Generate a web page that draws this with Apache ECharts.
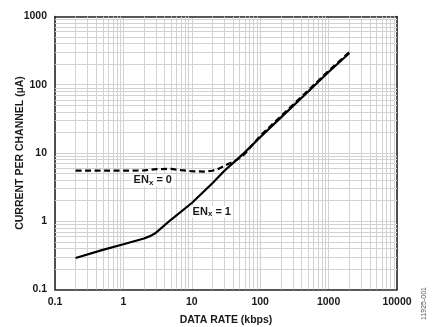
<!DOCTYPE html>
<html>
<head>
<meta charset="utf-8">
<script src="https://cdn.jsdelivr.net/npm/echarts@6/dist/echarts.min.js"></script>
<style>
  html, body { margin: 0; padding: 0; background: #fff; }
  #chart { width: 434px; height: 327px; }
</style>
</head>
<body>
<div id="chart"></div>
<script>
// Supply current per channel versus data rate, log-log.
const xTickLabels = ['0.1', '1', '10', '100', '1000', '10000'];
const yTickLabels = ['0.1', '1', '10', '100', '1000'];

// ENx = 1 (solid)
const en1Rate    = [0.2, 0.5, 1, 2, 2.5, 3, 5, 10, 20, 30, 50, 60, 100, 200, 500, 1000, 2000];
const en1Current = [0.29, 0.38, 0.46, 0.56, 0.61, 0.68, 1.06, 1.85, 3.6, 5.5, 8.7, 10.3, 17, 33, 79, 154, 290];

// ENx = 0 (dashed)
const en0Rate    = [0.2, 1, 2, 3, 5, 7, 10, 15, 20, 25, 30, 40, 50, 60, 100, 200, 500, 1000, 2000];
const en0Current = [5.5, 5.5, 5.55, 5.8, 5.85, 5.6, 5.4, 5.35, 5.5, 5.9, 6.5, 7.4, 8.4, 9.8, 17.8, 34.5, 82, 160, 298];

// Minor grid positions inside each decade
const minorSteps = [2, 3, 4, 5, 6, 7, 8, 9];
const xDecades = [0.1, 1, 10, 100, 1000];
const yDecades = [0.1, 1, 10, 100];

const FONT = 'Liberation Sans, Arial, sans-serif';
const INK = '#1a1a1a';
const GRID = '#d2d2d2';

const pairs = (xs, ys) => xs.map((x, i) => [x, ys[i]]);
const tickText = (labels) => (v) => {
  const s = String(parseFloat(Number(v).toPrecision(6)));
  return labels.includes(s) ? s : '';
};

const minorX = [];
xDecades.forEach(d => minorSteps.forEach(m => minorX.push({ xAxis: +(d * m).toPrecision(6) })));
const minorY = [];
yDecades.forEach(d => minorSteps.forEach(m => minorY.push({ yAxis: +(d * m).toPrecision(6) })));

const chart = echarts.init(document.getElementById('chart'), null, { renderer: 'canvas' });

const axisCommon = {
  type: 'log',
  logBase: 10,
  interval: 1,
  axisTick: { show: false },
  minorTick: { show: false },
  minorSplitLine: { show: false },
  axisLine: { show: true, onZero: false, lineStyle: { color: '#2a2a2a', width: 1.6 } },
  splitLine: { show: true, lineStyle: { color: GRID, width: 1 } }
};

const subLabel = (tail) => ({
  show: true,
  position: 'inside',
  formatter: '{b|EN}{s|x}{b|' + tail + '}',
  backgroundColor: '#fff',
  padding: [0, 2, 0, 2],
  rich: {
    b: { fontFamily: FONT, fontWeight: 'bold', fontSize: 11, color: INK, lineHeight: 12 },
    s: { fontFamily: FONT, fontWeight: 'bold', fontSize: 8, color: INK, lineHeight: 12, padding: [5, 0, 0, 0] }
  }
});

chart.setOption({
  animation: false,
  backgroundColor: '#fff',
  grid: { left: 55, top: 16.5, right: 37, bottom: 37.5, containLabel: false, outerBoundsMode: 'none' },
  xAxis: [
    Object.assign({}, axisCommon, {
      min: 0.1, max: 10000,
      position: 'bottom',
      name: 'DATA RATE (kbps)',
      nameLocation: 'middle',
      nameGap: 25,
      nameMoveOverlap: false,
      nameTextStyle: { fontFamily: FONT, fontWeight: 'bold', fontSize: 10.5, color: INK },
      axisLabel: { margin: 7, fontFamily: FONT, fontWeight: 'bold', fontSize: 10.5, color: INK,
                   formatter: tickText(xTickLabels) }
    }),
    Object.assign({}, axisCommon, {
      min: 0.1, max: 10000, position: 'top',
      axisLabel: { show: false }, splitLine: { show: false }
    })
  ],
  yAxis: [
    Object.assign({}, axisCommon, {
      min: 0.1, max: 1000,
      position: 'left',
      name: 'CURRENT PER CHANNEL (µA)',
      nameLocation: 'middle',
      nameGap: 29,
      nameMoveOverlap: false,
      nameTextStyle: { fontFamily: FONT, fontWeight: 'bold', fontSize: 10.5, color: INK },
      axisLabel: { margin: 8, fontFamily: FONT, fontWeight: 'bold', fontSize: 10.5, color: INK,
                   formatter: tickText(yTickLabels) }
    }),
    Object.assign({}, axisCommon, {
      min: 0.1, max: 1000, position: 'right',
      axisLabel: { show: false }, splitLine: { show: false }
    })
  ],
  graphic: [{
    type: 'text',
    left: 421, top: 287,
    rotation: Math.PI / 2,
    style: { text: '11925-001', font: '7px ' + FONT, fill: '#555' }
  }],
  series: [
    {
      name: 'minor grid',
      type: 'line',
      data: [],
      silent: true,
      z: 1,
      markLine: {
        z: 1,
        silent: true,
        symbol: 'none',
        animation: false,
        label: { show: false },
        emphasis: { disabled: true },
        lineStyle: { color: GRID, width: 1, type: 'solid' },
        data: minorX.concat(minorY)
      }
    },
    {
      name: 'ENx = 0',
      type: 'line',
      data: pairs(en0Rate, en0Current),
      showSymbol: false,
      z: 3,
      lineStyle: { color: '#000', width: 2.2, type: [6, 3.5], cap: 'butt' },
      markPoint: {
        z: 6,
        symbol: 'rect', symbolSize: 0, silent: true,
        data: [{ coord: [2.69, 4.0], label: subLabel(' = 0') }]
      }
    },
    {
      name: 'ENx = 1',
      type: 'line',
      data: pairs(en1Rate, en1Current),
      showSymbol: false,
      z: 4,
      lineStyle: { color: '#000', width: 2.2 },
      markPoint: {
        z: 6,
        symbol: 'rect', symbolSize: 0, silent: true,
        data: [{ coord: [19.6, 1.38], label: subLabel(' = 1') }]
      }
    }
  ]
});
</script>
</body>
</html>
